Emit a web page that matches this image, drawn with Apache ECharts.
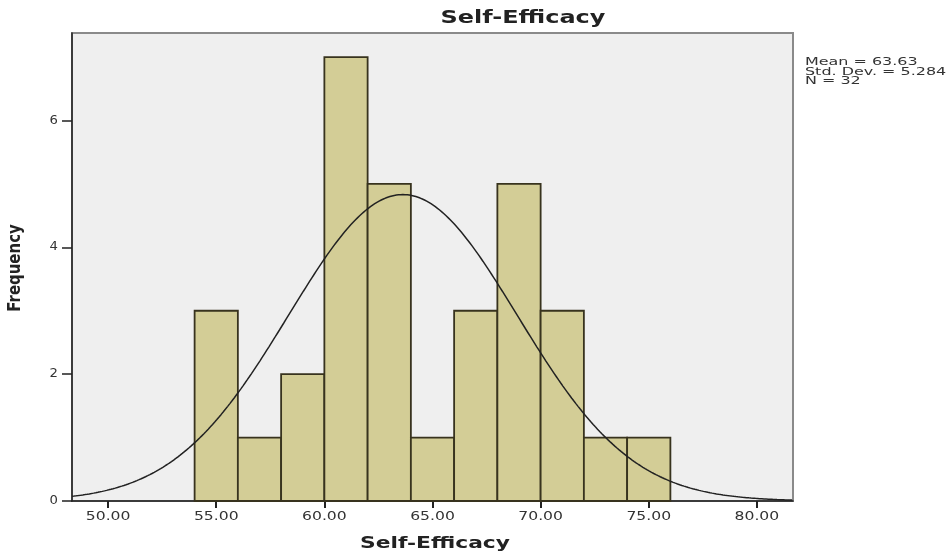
<!DOCTYPE html>
<html>
<head>
<meta charset="utf-8">
<script src="https://cdn.jsdelivr.net/npm/echarts@6/dist/echarts.min.js"></script>
<style>
  html, body { margin: 0; padding: 0; background: #ffffff; }
  #chart { width: 949px; height: 554px; }
</style>
</head>
<body>
<div id="chart"></div>
<script>
// Histogram bins (lower edge) and counts
const binStarts = [54, 56, 58, 60, 62, 64, 66, 68, 70, 72, 74];
const binWidth = 2;
const counts = [3, 1, 2, 7, 5, 1, 3, 5, 3, 1, 1];

// Summary statistics shown next to the plot
const mean = 63.63;
const stdDev = 5.284;
const n = 32;

const xTicks = [50, 55, 60, 65, 70, 75, 80];
const yTicks = [0, 2, 4, 6];

const titleText = 'Self-Efficacy';
const xName = 'Self-Efficacy';
const yName = 'Frequency';

// Fitted normal curve, scaled to frequency per bin
const curve = [];
for (let x = 48.33; x <= 81.67; x += 0.1) {
  const z = (x - mean) / stdDev;
  const y = n * binWidth * Math.exp(-0.5 * z * z) / (stdDev * Math.sqrt(2 * Math.PI));
  curve.push([x, y]);
}

const bins = binStarts.map((s, i) => [s, s + binWidth, counts[i]]);

const chart = echarts.init(document.getElementById('chart'));
const font = 'DejaVu Sans';

chart.setOption({
  animation: false,
  backgroundColor: '#ffffff',
  grid: {
    left: 72, top: 33, right: 156, bottom: 53,
    show: true,
    backgroundColor: '#efefef',
    borderColor: '#8a8a8a',
    borderWidth: 2
  },
  xAxis: {
    type: 'value',
    min: 48.33, max: 81.67,
    axisLine: { show: true, lineStyle: { color: '#222', width: 1.5 } },
    axisTick: { show: true, length: 7, lineStyle: { color: '#222', width: 2 },
      customValues: xTicks },
    axisLabel: { show: false },
    splitLine: { show: false }
  },
  yAxis: {
    type: 'value',
    min: 0, max: 7.38,
    axisLine: { show: true, lineStyle: { color: '#222', width: 1.5 } },
    axisTick: { show: true, length: 10, lineStyle: { color: '#222', width: 1.5 },
      customValues: yTicks },
    axisLabel: { show: false },
    splitLine: { show: false }
  },
  series: [
    {
      type: 'custom',
      data: bins,
      encode: { x: [0, 1], y: 2 },
      renderItem: function (params, api) {
        const p0 = api.coord([api.value(0), 0]);
        const p1 = api.coord([api.value(1), api.value(2)]);
        return {
          type: 'rect',
          shape: { x: p0[0], y: p1[1], width: p1[0] - p0[0], height: p0[1] - p1[1] },
          style: { fill: '#d3cd96', stroke: '#38331e', lineWidth: 1.8 }
        };
      },
      z: 2
    },
    {
      type: 'line',
      data: curve,
      showSymbol: false,
      lineStyle: { color: '#222', width: 1.5 },
      z: 3
    }
  ]
});

// Wide-set text labels placed from the axis scales
function label(text, x, y, opts) {
  return {
    type: 'text',
    x: x, y: y,
    rotation: opts.rotation || 0,
    scaleX: opts.scaleX || 1,
    scaleY: opts.scaleY || 1,
    silent: true,
    z: 10,
    style: {
      x: 0, y: 0,
      text: text,
      fill: opts.color || '#333',
      font: (opts.bold ? 'bold ' : '') + opts.size + 'px "' + font + '"',
      align: opts.align || 'center',
      verticalAlign: 'middle'
    }
  };
}

const g = [];
const topRight = chart.convertToPixel({ gridIndex: 0 }, [81.67, 7.38]);

xTicks.forEach(v => {
  const p = chart.convertToPixel({ gridIndex: 0 }, [v, 0]);
  g.push(label(v.toFixed(2), p[0], p[1] + 16, { size: 12, scaleX: 1.3 }));
});
yTicks.forEach(v => {
  const p = chart.convertToPixel({ gridIndex: 0 }, [48.33, v]);
  g.push(label(String(v), p[0] - 14, p[1], { size: 12, scaleX: 1.1, align: 'right' }));
});

g.push(label(titleText, 523, 18, { size: 18, bold: true, scaleX: 1.33, color: '#222' }));
g.push(label(xName, 435, 544, { size: 16, bold: true, scaleX: 1.36, color: '#222' }));
g.push(label(yName, 15, 268, { size: 13, bold: true, scaleX: 1.15, scaleY: 1.35, rotation: Math.PI / 2, color: '#222' }));

const statLines = [
  'Mean = ' + mean.toFixed(2),
  'Std. Dev. = ' + stdDev.toFixed(3),
  'N = ' + n
];
statLines.forEach((t, i) => {
  g.push(label(t, topRight[0] + 12, 62.5 + i * 9.5, { size: 11, scaleX: 1.45, align: 'left', color: '#333' }));
});

chart.setOption({ graphic: g });
</script>
</body>
</html>
